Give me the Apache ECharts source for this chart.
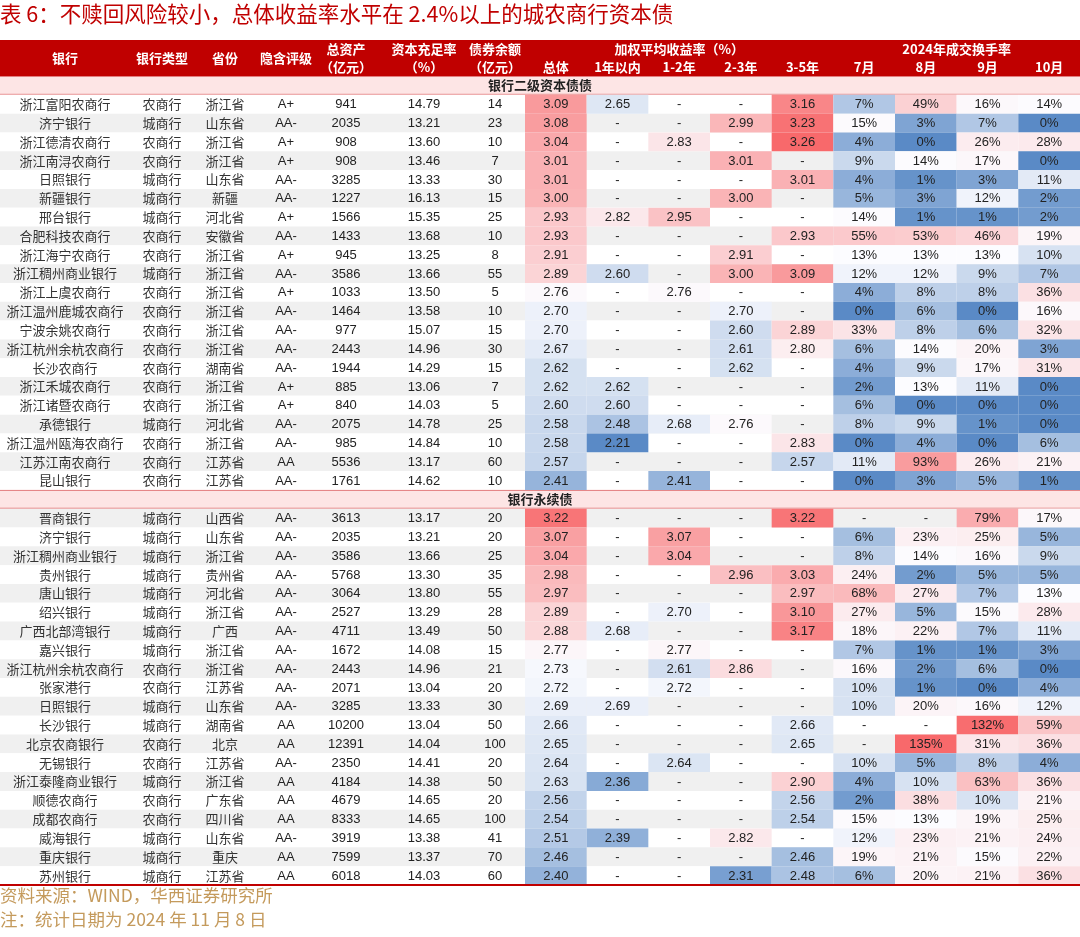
<!DOCTYPE html>
<html><head><meta charset="utf-8">
<script src="https://cdn.jsdelivr.net/npm/echarts@6/dist/echarts.min.js"></script>
<style>html,body{margin:0;padding:0;background:#fff}#c{width:1080px;height:937px}</style>
</head><body><div id="c"></div>
<script>
// ---------------- DATA ----------------
const TITLE = '表 6：不赎回风险较小，总体收益率水平在 2.4%以上的城农商行资本债';
const SOURCE_NOTE = '资料来源：WIND，华西证券研究所';
const DATE_NOTE = '注：统计日期为 2024 年 11 月 8 日';

const SECTION_TITLES = ['银行二级资本债债', '银行永续债'];
const SECTION_SIZES = [21, 20];

const HEADER_LEFT = ['银行', '银行类型', '省份', '隐含评级'];
const HEADER_TWO_LINE = [['总资产', '（亿元）'], ['资本充足率', '（%）'], ['债券余额', '（亿元）']];
const YIELD_GROUP = '加权平均收益率（%）';
const YIELD_TERMS = ['总体', '1年以内', '1-2年', '2-3年', '3-5年'];
const TURNOVER_GROUP = '2024年成交换手率';
const MONTHS = ['7月', '8月', '9月', '10月'];

const banks = ['浙江富阳农商行','济宁银行','浙江德清农商行','浙江南浔农商行','日照银行','新疆银行','邢台银行','合肥科技农商行','浙江海宁农商行','浙江稠州商业银行','浙江上虞农商行','浙江温州鹿城农商行','宁波余姚农商行','浙江杭州余杭农商行','长沙农商行','浙江禾城农商行','浙江诸暨农商行','承德银行','浙江温州瓯海农商行','江苏江南农商行','昆山银行',
 '晋商银行','济宁银行','浙江稠州商业银行','贵州银行','唐山银行','绍兴银行','广西北部湾银行','嘉兴银行','浙江杭州余杭农商行','张家港行','日照银行','长沙银行','北京农商银行','无锡银行','浙江泰隆商业银行','顺德农商行','成都农商行','威海银行','重庆银行','苏州银行'];
const bankTypes = ['农商行','城商行','农商行','农商行','城商行','城商行','城商行','农商行','农商行','城商行','农商行','农商行','农商行','农商行','农商行','农商行','农商行','城商行','农商行','农商行','农商行',
 '城商行','城商行','城商行','城商行','城商行','城商行','城商行','城商行','农商行','农商行','城商行','城商行','农商行','农商行','城商行','农商行','农商行','城商行','城商行','城商行'];
const provinces = ['浙江省','山东省','浙江省','浙江省','山东省','新疆','河北省','安徽省','浙江省','浙江省','浙江省','浙江省','浙江省','浙江省','湖南省','浙江省','浙江省','河北省','浙江省','江苏省','江苏省',
 '山西省','山东省','浙江省','贵州省','河北省','浙江省','广西','浙江省','浙江省','江苏省','山东省','湖南省','北京','江苏省','浙江省','广东省','四川省','山东省','重庆','江苏省'];
const ratings = ['A+','AA-','A+','A+','AA-','AA-','A+','AA-','A+','AA-','A+','AA-','AA-','AA-','AA-','A+','A+','AA-','AA-','AA','AA-',
 'AA-','AA-','AA-','AA-','AA-','AA-','AA-','AA-','AA-','AA-','AA-','AA','AA','AA-','AA','AA','AA','AA-','AA','AA'];
const totalAssets = [941,2035,908,908,3285,1227,1566,1433,945,3586,1033,1464,977,2443,1944,885,840,2075,985,5536,1761,
 3613,2035,3586,5768,3064,2527,4711,1672,2443,2071,3285,10200,12391,2350,4184,4679,8333,3919,7599,6018];
const capitalAdequacy = [14.79,13.21,13.60,13.46,13.33,16.13,15.35,13.68,13.25,13.66,13.50,13.58,15.07,14.96,14.29,13.06,14.03,14.78,14.84,13.17,14.62,
 13.17,13.21,13.66,13.30,13.80,13.29,13.49,14.08,14.96,13.04,13.33,13.04,14.04,14.41,14.38,14.65,14.65,13.38,13.37,14.03];
const bondBalance = [14,23,10,7,30,15,25,10,8,55,5,10,15,30,15,7,5,25,10,60,10,
 20,20,25,35,55,28,50,15,21,20,30,50,100,20,50,20,100,41,70,60];
const yieldTotal = [3.09,3.08,3.04,3.01,3.01,3.00,2.93,2.93,2.91,2.89,2.76,2.70,2.70,2.67,2.62,2.62,2.60,2.58,2.58,2.57,2.41,
 3.22,3.07,3.04,2.98,2.97,2.89,2.88,2.77,2.73,2.72,2.69,2.66,2.65,2.64,2.63,2.56,2.54,2.51,2.46,2.40];
const yieldUnder1y = [2.65,null,null,null,null,null,2.82,null,null,2.60,null,null,null,null,null,2.62,2.60,2.48,2.21,null,null,
 null,null,null,null,null,null,2.68,null,null,null,2.69,null,null,null,2.36,null,null,2.39,null,null];
const yield1to2y = [null,null,2.83,null,null,null,2.95,null,null,null,2.76,null,null,null,null,null,null,2.68,null,null,2.41,
 null,3.07,3.04,null,null,2.70,null,2.77,2.61,2.72,null,null,null,2.64,null,null,null,null,null,null];
const yield2to3y = [null,2.99,null,3.01,null,3.00,null,null,2.91,3.00,null,2.70,2.60,2.61,2.62,null,null,2.76,null,null,null,
 null,null,null,2.96,null,null,null,null,2.86,null,null,null,null,null,null,null,null,2.82,null,2.31];
const yield3to5y = [3.16,3.23,3.26,null,3.01,null,null,2.93,null,3.09,null,null,2.89,2.80,null,null,null,null,2.83,2.57,null,
 3.22,null,null,3.03,2.97,3.10,3.17,null,null,null,null,2.66,2.65,null,2.90,2.56,2.54,null,2.46,2.48];
const turnoverJul = [7,15,4,9,4,5,14,55,13,12,4,0,33,6,4,2,6,8,0,11,0,
 null,6,8,24,68,27,18,7,16,10,10,null,null,10,4,2,15,12,19,6];
const turnoverAug = [49,3,0,14,1,3,1,53,13,12,8,6,8,14,9,13,0,9,4,93,3,
 null,23,14,2,27,5,22,1,2,1,20,null,135,5,10,38,13,23,21,20];
const turnoverSep = [16,7,26,17,3,12,1,46,13,9,8,0,6,20,17,11,0,1,0,26,5,
 79,25,16,5,7,15,7,1,6,0,16,132,31,8,63,10,19,21,15,21];
const turnoverOct = [14,0,28,0,11,2,2,19,10,7,36,16,32,3,31,0,0,0,6,21,1,
 17,5,9,5,13,28,11,3,0,4,12,59,36,4,36,21,25,24,22,36];

// ---------------- LAYOUT / STYLE ----------------
const W = 1080;
const LEFT_CENTERS = [65, 162, 225, 286, 346, 424, 495];
const HEAT_LEFT = 525;
const HEAT_W = (W - HEAT_LEFT) / 9;
const CN = '"Noto Sans CJK SC", sans-serif';
const NUM = '"Liberation Sans", Arial, sans-serif';
const RED = '#c00000';
const C_LOW = [90, 138, 198], C_MID = [252, 252, 255], C_HIGH = [248, 105, 107];
const SCALES = [ {min: null, mid: 2.75, max: null}, {min: 0, mid: 13, max: null} ];

const yieldCols = [yieldTotal, yieldUnder1y, yield1to2y, yield2to3y, yield3to5y];
const turnCols = [turnoverJul, turnoverAug, turnoverSep, turnoverOct];
const yAll = yieldCols.flat().filter(v => v != null);
const tAll = turnCols.flat().filter(v => v != null);
SCALES[0].min = Math.min(...yAll); SCALES[0].max = Math.max(...yAll);
SCALES[1].max = Math.max(...tAll);

function scaleColor(v, s) {
  let a, b, t;
  if (v <= s.mid) { a = C_LOW; b = C_MID; t = (v - s.min) / (s.mid - s.min); }
  else { a = C_MID; b = C_HIGH; t = (v - s.mid) / (s.max - s.mid); }
  t = Math.max(0, Math.min(1, t));
  const c = a.map((x, k) => Math.round(x + (b[k] - x) * t));
  return 'rgb(' + c.join(',') + ')';
}

// ---------------- BUILD ROWS ----------------
const rows = [];
let di = 0;
SECTION_TITLES.forEach((t, s) => {
  rows.push({kind: 'section', title: t});
  for (let k = 0; k < SECTION_SIZES[s]; k++) rows.push({kind: 'data', i: di++});
});
const rowLabels = rows.map((r, idx) => 'r' + idx);

const TEXTS = [];
function tid(s) { TEXTS.push(s); return TEXTS.length - 1; }

const bgData = [], heatData = [], textData = [];
rows.forEach((r, idx) => {
  if (r.kind === 'section') {
    bgData.push([0, W, idx, 2]);
    textData.push([540, idx, tid(r.title), 2]);
    return;
  }
  const i = r.i;
  bgData.push([0, W, idx, i % 2]);
  const leftTexts = [banks[i], bankTypes[i], provinces[i]];
  leftTexts.forEach((s, c) => textData.push([LEFT_CENTERS[c], idx, tid(s), 0]));
  textData.push([LEFT_CENTERS[3], idx, tid(ratings[i]), 1]);
  textData.push([LEFT_CENTERS[4], idx, tid(String(totalAssets[i])), 1]);
  textData.push([LEFT_CENTERS[5], idx, tid(capitalAdequacy[i].toFixed(2)), 1]);
  textData.push([LEFT_CENTERS[6], idx, tid(String(bondBalance[i])), 1]);
  yieldCols.forEach((col, c) => {
    const xl = HEAT_LEFT + c * HEAT_W, xr = xl + HEAT_W, v = col[i];
    if (v != null) heatData.push([xl, xr, idx, v, 0]);
    textData.push([(xl + xr) / 2, idx, tid(v == null ? '-' : v.toFixed(2)), 1]);
  });
  turnCols.forEach((col, c) => {
    const xl = HEAT_LEFT + (c + 5) * HEAT_W, xr = xl + HEAT_W, v = col[i];
    if (v != null) heatData.push([xl, xr, idx, v, 1]);
    textData.push([(xl + xr) / 2, idx, tid(v == null ? '-' : v + '%'), 1]);
  });
});

// header items: [x, yLine(0..2), textId]
const headerData = [];
HEADER_LEFT.forEach((s, c) => headerData.push([LEFT_CENTERS[c], 1, tid(s)]));
HEADER_TWO_LINE.forEach((p, c) => {
  headerData.push([LEFT_CENTERS[4 + c], 0.5, tid(p[0])]);
  headerData.push([LEFT_CENTERS[4 + c], 1.5, tid(p[1])]);
});
headerData.push([HEAT_LEFT + 2.5 * HEAT_W, 0.5, tid(YIELD_GROUP)]);
YIELD_TERMS.forEach((s, c) => headerData.push([HEAT_LEFT + (c + 0.5) * HEAT_W, 1.5, tid(s)]));
headerData.push([HEAT_LEFT + 7 * HEAT_W, 0.5, tid(TURNOVER_GROUP)]);
MONTHS.forEach((s, c) => headerData.push([HEAT_LEFT + (c + 5.5) * HEAT_W, 1.5, tid(s)]));

// ---------------- CHART ----------------
const chart = echarts.init(document.getElementById('c'), null, {width: 1080, height: 937});

function rectItem(params, api) {
  const p0 = api.coord([api.value(0), api.value(2)]);
  const p1 = api.coord([api.value(1), api.value(2)]);
  const h = api.size([0, 1])[1];
  return {x: p0[0], y: p0[1] - h / 2, width: p1[0] - p0[0], height: h};
}

chart.setOption({
  animation: false,
  title: {
    text: TITLE, left: 0, top: 3, padding: 0,
    textStyle: {color: RED, fontSize: 21.5, fontWeight: 'normal', fontFamily: CN}
  },
  graphic: [
    {type: 'text', left: 0, top: 887, style: {text: SOURCE_NOTE, fill: '#c49a5c', fontSize: 17.5, fontFamily: CN}},
    {type: 'text', left: 0, top: 911, style: {text: DATE_NOTE, fill: '#c49a5c', fontSize: 17.5, fontFamily: CN}}
  ],
  grid: [
    {left: 0, right: 0, top: 76, height: 809},
    {left: 0, right: 0, top: 40, height: 36}
  ],
  xAxis: [
    {gridIndex: 0, type: 'value', min: 0, max: W, z: 10,
     axisLine: {show: true, onZero: false, lineStyle: {color: RED, width: 2}},
     axisTick: {show: false}, axisLabel: {show: false}, splitLine: {show: false}},
    {gridIndex: 1, type: 'value', min: 0, max: W, show: false}
  ],
  yAxis: [
    {gridIndex: 0, type: 'category', data: rowLabels, inverse: true, show: false},
    {gridIndex: 1, type: 'value', min: 0, max: 2, inverse: true, show: false}
  ],
  series: [
    {
      type: 'custom', name: 'rows', xAxisIndex: 0, yAxisIndex: 0, data: bgData, z: 1,
      renderItem(params, api) {
        const r = rectItem(params, api);
        const kind = api.value(3);
        if (kind === 2) {
          return {type: 'group', children: [
            {type: 'rect', shape: r, style: {fill: '#fde5e5'}},
            {type: 'line', shape: {x1: r.x, y1: r.y + 0.5, x2: r.x + r.width, y2: r.y + 0.5}, style: {stroke: '#e37d7f', lineWidth: 1}},
            {type: 'line', shape: {x1: r.x, y1: r.y + r.height - 0.5, x2: r.x + r.width, y2: r.y + r.height - 0.5}, style: {stroke: '#e37d7f', lineWidth: 1}}
          ]};
        }
        return {type: 'rect', shape: r, style: {fill: kind === 1 ? '#f0f0f0' : '#ffffff'}};
      }
    },
    {
      type: 'custom', name: 'heat', xAxisIndex: 0, yAxisIndex: 0, data: heatData, z: 2,
      renderItem(params, api) {
        const r = rectItem(params, api);
        return {type: 'rect', shape: r, style: {fill: scaleColor(api.value(3), SCALES[api.value(4)])}};
      }
    },
    {
      type: 'custom', name: 'text', xAxisIndex: 0, yAxisIndex: 0, data: textData, z: 3,
      renderItem(params, api) {
        const p = api.coord([api.value(0), api.value(1)]);
        const kind = api.value(3);
        const cn = kind !== 1;
        return {type: 'text', x: p[0], y: p[1] + (cn ? 0 : 0.5), style: {
          text: TEXTS[api.value(2)], align: 'center', verticalAlign: 'middle',
          fill: kind === 2 ? '#222' : (cn ? '#333' : '#222'),
          fontSize: 13, fontFamily: cn ? CN : NUM, fontWeight: kind === 2 ? 'bold' : 'normal'
        }};
      }
    },
    {
      type: 'custom', name: 'headerBand', xAxisIndex: 1, yAxisIndex: 1, data: [[0, W, 0]], z: 1,
      renderItem(params, api) {
        const cs = params.coordSys;
        return {type: 'rect', shape: {x: cs.x, y: cs.y, width: cs.width, height: cs.height}, style: {fill: RED}};
      }
    },
    {
      type: 'custom', name: 'headerText', xAxisIndex: 1, yAxisIndex: 1, data: headerData, z: 3,
      renderItem(params, api) {
        const p = api.coord([api.value(0), api.value(1)]);
        return {type: 'text', x: p[0], y: p[1], style: {
          text: TEXTS[api.value(2)], align: 'center', verticalAlign: 'middle',
          fill: '#ffffff', fontSize: 13, fontFamily: CN, fontWeight: 'bold'
        }};
      }
    }
  ]
});
</script></body></html>
